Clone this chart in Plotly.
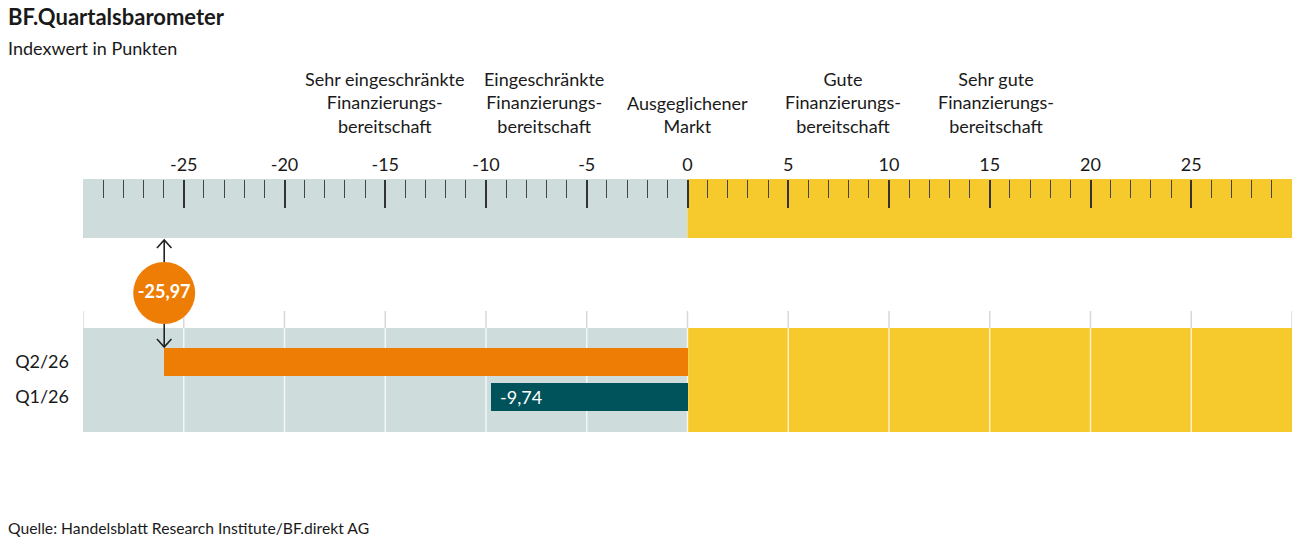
import plotly.graph_objects as go

# ---- data ----
quarters = ["Q1/26", "Q2/26"]
values = [-9.74, -25.97]
value_labels = ["-9,74", "-25,97"]
bar_colors = ["#00535A", "#EE7D06"]
tick_values = [-25, -20, -15, -10, -5, 0, 5, 10, 15, 20, 25]
tick_labels = ["-25", "-20", "-15", "-10", "-5", "0", "5", "10", "15", "20", "25"]
minor_ticks = [i for i in range(-29, 30) if i % 5 != 0]
grid_values = list(range(-30, 31, 5))
zone_labels = ["Sehr eingeschränkte<br>Finanzierungs-<br>bereitschaft",
               "Eingeschränkte<br>Finanzierungs-<br>bereitschaft",
               "Ausgeglichener<br>Markt",
               "Gute<br>Finanzierungs-<br>bereitschaft",
               "Sehr gute<br>Finanzierungs-<br>bereitschaft"]
zone_label_x = [-15.0, -7.1, 0.0, 7.7, 15.3]
x_min, x_max = -30, 30

W, H = 1306, 541
FONT = "Lato"
GRAY = "#CEDCDC"
YELLOW = "#F6C92C"
TEXT = "#1a1a1a"
L_MARGIN, R_MARGIN = 83, 14


def py(pix):
    return 1 - pix / H


def px(pix):
    return (pix - L_MARGIN) / (W - L_MARGIN - R_MARGIN)


fig = go.Figure()

# bars
fig.add_trace(go.Bar(
    y=quarters, x=values, base=0, orientation="h",
    marker=dict(color=bar_colors, line=dict(width=0)),
    width=0.8, xaxis="x", yaxis="y2", hoverinfo="skip",
))

# circle marker for latest value
fig.add_trace(go.Scatter(
    x=[values[1]], y=[293], mode="markers+text",
    marker=dict(size=62, color=bar_colors[1], line=dict(width=0)),
    text=["<b>" + value_labels[1] + "</b>"], textposition="middle center",
    textfont=dict(family=FONT, size=18, color="white"),
    xaxis="x", yaxis="y", cliponaxis=False, hoverinfo="skip",
))

shapes = []
# bands
for (y0, y1) in [(179, 238), (328, 432)]:
    shapes.append(dict(type="rect", xref="x", yref="y", x0=x_min, x1=0, y0=y0, y1=y1,
                       fillcolor=GRAY, line=dict(width=0), layer="below"))
    shapes.append(dict(type="rect", xref="x", yref="y", x0=0, x1=x_max, y0=y0, y1=y1,
                       fillcolor=YELLOW, line=dict(width=0), layer="below"))
# gridlines of bar section
for g in grid_values:
    shapes.append(dict(type="line", xref="x", yref="y", x0=g, x1=g, y0=311, y1=328,
                       line=dict(color="#D8D8D8", width=1.5), layer="below"))
    if x_min < g < x_max:
        shapes.append(dict(type="line", xref="x", yref="y", x0=g, x1=g, y0=328, y1=432,
                           line=dict(color="rgba(255,255,255,0.75)", width=1.5), layer="below"))

# arrows from circle
cx = values[1]
hw = 0.36
shapes.append(dict(type="line", xref="x", yref="y", x0=cx, x1=cx, y0=240, y1=262,
                   line=dict(color="#222", width=1.6)))
shapes.append(dict(type="path", xref="x", yref="y",
                   path=f"M {cx-hw},248 L {cx},240 L {cx+hw},248",
                   line=dict(color="#222", width=1.6)))
shapes.append(dict(type="line", xref="x", yref="y", x0=cx, x1=cx, y0=324, y1=347,
                   line=dict(color="#222", width=1.6)))
shapes.append(dict(type="path", xref="x", yref="y",
                   path=f"M {cx-hw},339 L {cx},347 L {cx+hw},339",
                   line=dict(color="#222", width=1.6)))

annotations = [
    dict(x=px(6), y=py(16), xref="paper", yref="paper", xanchor="left", yanchor="middle",
         text="<b>BF.Quartalsbarometer</b>", showarrow=False,
         font=dict(family=FONT, size=22, color=TEXT)),
    dict(x=px(6), y=py(48), xref="paper", yref="paper", xanchor="left", yanchor="middle",
         text="Indexwert in Punkten", showarrow=False,
         font=dict(family=FONT, size=18, color=TEXT)),
    dict(x=px(6), y=py(528), xref="paper", yref="paper", xanchor="left", yanchor="middle",
         text="Quelle: Handelsblatt Research Institute/BF.direkt AG", showarrow=False,
         font=dict(family=FONT, size=15.7, color=TEXT)),
    dict(x=values[0], y=quarters[0], xref="x", yref="y2", xanchor="left", yanchor="middle",
         xshift=7, text=value_labels[0], showarrow=False,
         font=dict(family=FONT, size=18, color="white")),
]
for lbl, xv in zip(zone_labels, zone_label_x):
    annotations.append(dict(x=xv, y=139, xref="x", yref="y", xanchor="center", yanchor="bottom",
                            text=lbl, showarrow=False, align="center",
                            font=dict(family=FONT, size=18, color=TEXT)))

fig.update_layout(
    width=W, height=H,
    margin=dict(l=L_MARGIN, r=R_MARGIN, t=0, b=0),
    paper_bgcolor="white", plot_bgcolor="rgba(0,0,0,0)",
    showlegend=False, bargap=0,
    shapes=shapes, annotations=annotations,
    xaxis=dict(range=[x_min, x_max], side="top", anchor="free", position=py(179),
               tickmode="array", tickvals=tick_values, ticktext=tick_labels,
               ticks="inside", ticklen=28, tickwidth=1.5, tickcolor="#333",
               minor=dict(tickvals=minor_ticks, ticks="inside", ticklen=18,
                          tickwidth=1.2, tickcolor="#444"),
               showgrid=False, zeroline=False, showline=False,
               tickfont=dict(family=FONT, size=18, color=TEXT),
               ticklabelstandoff=4, fixedrange=True),
    yaxis=dict(range=[H, 0], domain=[0, 1], visible=False, fixedrange=True),
    yaxis2=dict(domain=[py(432), py(328)], range=[-1.0, 1.971], anchor="free", position=0,
                showgrid=False, zeroline=False, showline=False, ticks="",
                tickfont=dict(family=FONT, size=18, color=TEXT), ticklabelstandoff=14,
                fixedrange=True, type="category"),
)

fig.write_html("out.html")
